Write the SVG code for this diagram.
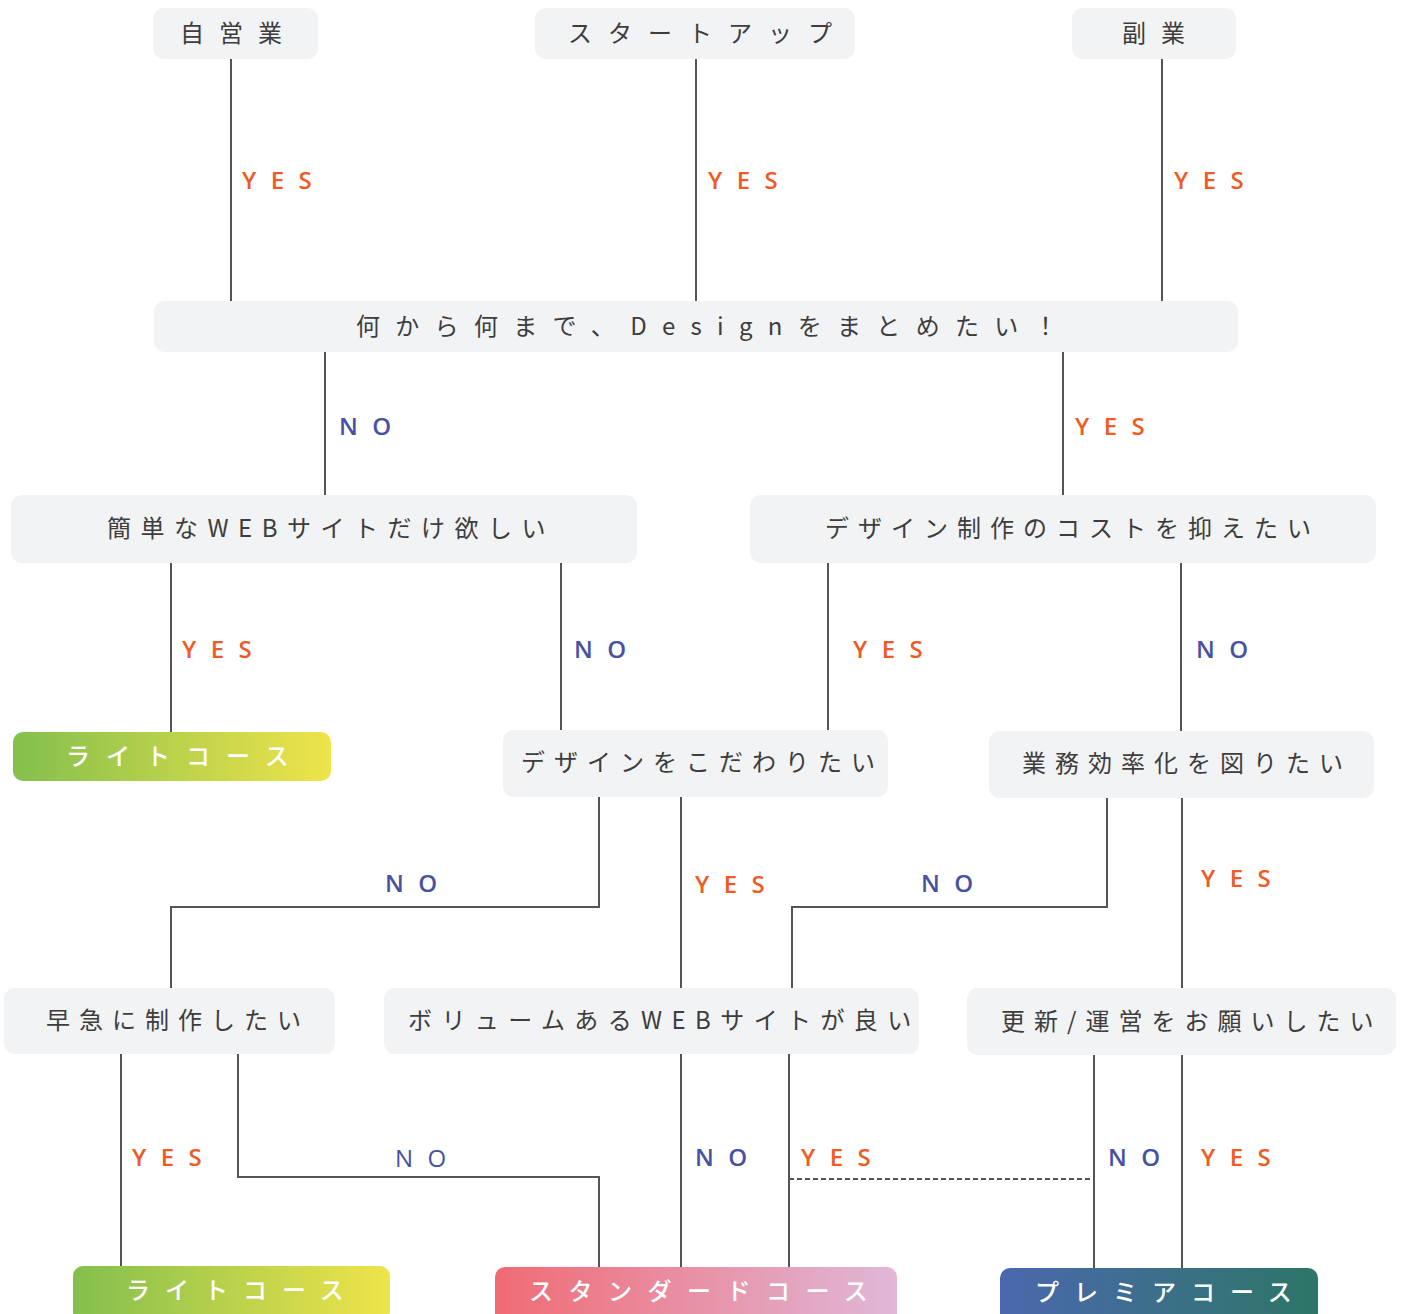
<svg xmlns="http://www.w3.org/2000/svg" width="1403" height="1314" viewBox="0 0 1403 1314">
<defs>
<linearGradient id="gLight" x1="0" y1="0" x2="1" y2="0"><stop offset="0" stop-color="#84bf4d"/><stop offset="1" stop-color="#efe44a"/></linearGradient>
<linearGradient id="gStd" x1="0" y1="0" x2="1" y2="0"><stop offset="0" stop-color="#f06b73"/><stop offset="1" stop-color="#e0b8d9"/></linearGradient>
<linearGradient id="gPrem" x1="0" y1="0" x2="1" y2="0"><stop offset="0" stop-color="#4b68ae"/><stop offset="1" stop-color="#2d7667"/></linearGradient>
<style>
.box{fill:#f2f3f5}
.t{font-family:"Noto Sans CJK JP","Noto Sans",sans-serif;font-size:24px;fill:#3d3d3d}
.w{font-family:"Noto Sans CJK JP","Noto Sans",sans-serif;font-size:24px;fill:#ffffff;font-weight:500}
.ln{stroke:#555;stroke-width:2;fill:none}
.dash{stroke:#555;stroke-width:2;fill:none;stroke-dasharray:5 3}
.yes{font-family:"Open Sans","Noto Sans",sans-serif;font-size:24px;font-weight:600;fill:#f05a24;letter-spacing:14.5px}
.no{font-family:"Open Sans","Noto Sans",sans-serif;font-size:24px;font-weight:600;fill:#4852a3;letter-spacing:14.5px}
.nol{font-family:"Open Sans","Noto Sans",sans-serif;font-size:24px;font-weight:400;fill:#4852a3;letter-spacing:14.5px}
</style>
</defs>
<g id="connectors">
<path class="ln" d="M231 59V301"/>
<path class="ln" d="M696 59V301"/>
<path class="ln" d="M1162 59V301"/>
<path class="ln" d="M325 352V495"/>
<path class="ln" d="M1063 352V495"/>
<path class="ln" d="M171 563V732"/>
<path class="ln" d="M561 563V730"/>
<path class="ln" d="M828 563V730"/>
<path class="ln" d="M1181 563V731"/>
<path class="ln" d="M599 797V907H171V988"/>
<path class="ln" d="M681 797V988"/>
<path class="ln" d="M1107 798V907H792V988"/>
<path class="ln" d="M1182 798V988"/>
<path class="ln" d="M121 1054V1266"/>
<path class="ln" d="M238 1054V1177H599V1267"/>
<path class="ln" d="M681 1054V1267"/>
<path class="ln" d="M789 1054V1267"/>
<path class="dash" d="M789 1179H1094"/>
<path class="ln" d="M1094 1055V1268"/>
<path class="ln" d="M1182 1055V1268"/>
<text class="yes" x="242" y="189">YES</text>
<text class="yes" x="708" y="189">YES</text>
<text class="yes" x="1174" y="189">YES</text>
<text class="no" x="339" y="435">NO</text>
<text class="yes" x="1075" y="435">YES</text>
<text class="yes" x="182" y="658">YES</text>
<text class="no" x="574" y="658">NO</text>
<text class="yes" x="853" y="658">YES</text>
<text class="no" x="1196" y="658">NO</text>
<text class="no" x="385" y="892">NO</text>
<text class="yes" x="695" y="893">YES</text>
<text class="no" x="921" y="892">NO</text>
<text class="yes" x="1201" y="887">YES</text>
<text class="yes" x="132" y="1166">YES</text>
<text class="nol" x="395" y="1167">NO</text>
<text class="no" x="695" y="1166">NO</text>
<text class="yes" x="801" y="1166">YES</text>
<text class="no" x="1108" y="1166">NO</text>
<text class="yes" x="1201" y="1166">YES</text>
</g>
<g id="n-jieigyo"><rect class="box" x="153" y="8" width="165" height="51" rx="11"/><text class="t" x="180" y="42" letter-spacing="15">自営業</text></g>
<g id="n-startup"><rect class="box" x="535" y="8" width="320" height="51" rx="11"/><text class="t" x="568" y="42" letter-spacing="16">スタートアップ</text></g>
<g id="n-fukugyo"><rect class="box" x="1072" y="8" width="164" height="51" rx="11"/><text class="t" x="1122" y="42" letter-spacing="15">副業</text></g>
<g id="n-design-all"><rect class="box" x="154" y="301" width="1084" height="51" rx="11"/><text class="t" x="356" y="335" letter-spacing="15.3">何から何まで、Designをまとめたい！</text></g>
<g id="n-simple"><rect class="box" x="11" y="495" width="626" height="68" rx="11"/><text class="t" x="107" y="537" letter-spacing="9.5">簡単なWEBサイトだけ欲しい</text></g>
<g id="n-cost"><rect class="box" x="750" y="495" width="626" height="68" rx="11"/><text class="t" x="825" y="537" letter-spacing="9">デザイン制作のコストを抑えたい</text></g>
<g id="n-light1"><rect x="13" y="732" width="318" height="49" rx="10" fill="url(#gLight)"/><text class="w" x="66" y="765" letter-spacing="16">ライトコース</text></g>
<g id="n-kodawari"><rect class="box" x="503" y="730" width="385" height="67" rx="11"/><text class="t" x="521" y="771" letter-spacing="9">デザインをこだわりたい</text></g>
<g id="n-gyomu"><rect class="box" x="989" y="731" width="385" height="67" rx="11"/><text class="t" x="1022" y="772" letter-spacing="9">業務効率化を図りたい</text></g>
<g id="n-sokyu"><rect class="box" x="4" y="988" width="331" height="66" rx="11"/><text class="t" x="46" y="1029" letter-spacing="9">早急に制作したい</text></g>
<g id="n-volume"><rect class="box" x="384" y="988" width="535" height="66" rx="11"/><text class="t" x="408" y="1029" letter-spacing="9.4">ボリュームあるWEBサイトが良い</text></g>
<g id="n-koshin"><rect class="box" x="967" y="988" width="429" height="67" rx="11"/><text class="t" x="1001" y="1030" letter-spacing="9">更新/運営をお願いしたい</text></g>
<g id="n-light2"><rect x="73" y="1266" width="317" height="56" rx="10" fill="url(#gLight)"/><text class="w" x="126" y="1299" letter-spacing="15">ライトコース</text></g>
<g id="n-standard"><rect x="495" y="1267" width="402" height="56" rx="10" fill="url(#gStd)"/><text class="w" x="529" y="1300" letter-spacing="15.5">スタンダードコース</text></g>
<g id="n-premium"><rect x="1000" y="1268" width="318" height="56" rx="10" fill="url(#gPrem)"/><text class="w" x="1035" y="1301" letter-spacing="15">プレミアコース</text></g>
</svg>
